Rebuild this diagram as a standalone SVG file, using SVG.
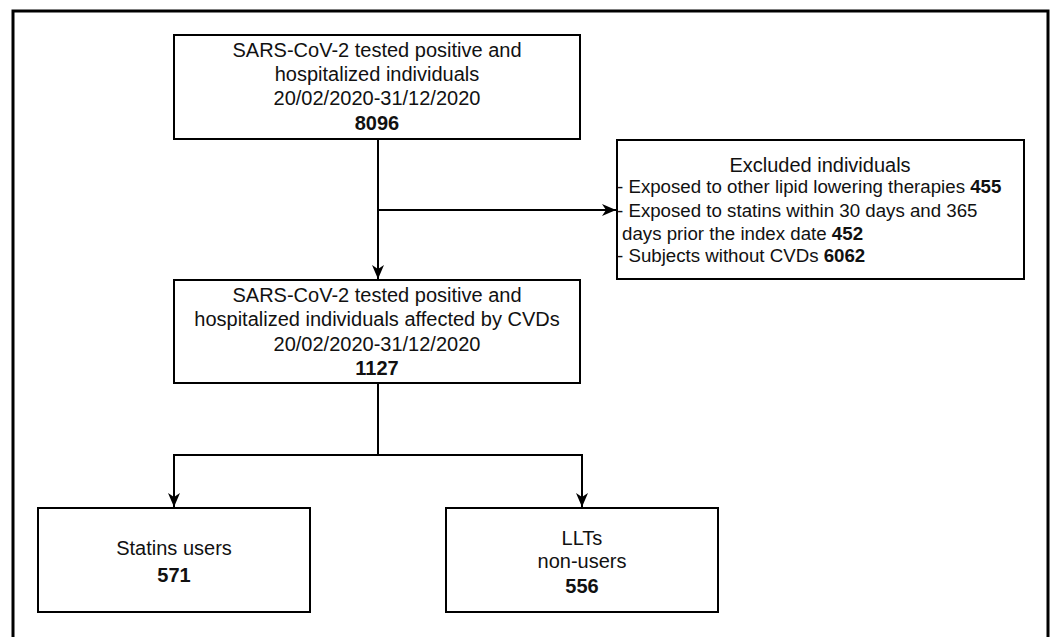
<svg xmlns="http://www.w3.org/2000/svg" width="1054" height="637" viewBox="0 0 1054 637">
<style>
.box{fill:#fff;stroke:#000;stroke-width:2}
.t{font-family:"Liberation Sans",Arial,sans-serif;font-size:20px;fill:#111;text-anchor:middle}
.l{font-family:"Liberation Sans",Arial,sans-serif;font-size:18.7px;fill:#111}
.b{font-weight:bold}
.c{fill:none;stroke:#000;stroke-width:2}
</style>
<defs>
<marker id="ah" viewBox="0 0 14 12" refX="14" refY="6" markerWidth="14" markerHeight="12" markerUnits="userSpaceOnUse" orient="auto">
<path d="M0,0 L14,6 L0,12 L4,6 Z" fill="#000"/>
</marker>
</defs>
<rect width="1054" height="637" fill="#fff"/>
<path d="M13,650 V11 H1048 V650" fill="none" stroke="#000" stroke-width="3"/>
<g id="connectors">
<path class="c" d="M378,139 V279" marker-end="url(#ah)"/>
<path class="c" d="M378,210 H616" marker-end="url(#ah)"/>
<path class="c" d="M378,383 V455"/>
<path class="c" d="M174,455 H582"/>
<path class="c" d="M174,454 V507" marker-end="url(#ah)"/>
<path class="c" d="M582,454 V507" marker-end="url(#ah)"/>
</g>
<g id="n1">
<rect class="box" x="174" y="35" width="406" height="104"/>
<text class="t" x="377" y="57">SARS-CoV-2 tested positive and</text>
<text class="t" x="377" y="81">hospitalized individuals</text>
<text class="t" x="377" y="105">20/02/2020-31/12/2020</text>
<text class="t b" x="377" y="130">8096</text>
</g>
<g id="n2">
<rect class="box" x="617" y="140" width="407" height="139"/>
<text class="t" x="820" y="172">Excluded individuals</text>
<text class="l" x="617" y="193">- Exposed to other lipid lowering therapies <tspan class="b">455</tspan></text>
<text class="l" x="617" y="217">- Exposed to statins within 30 days and 365</text>
<text class="l" x="622" y="240">days prior the index date <tspan class="b">452</tspan></text>
<text class="l" x="617" y="262">- Subjects without CVDs <tspan class="b">6062</tspan></text>
</g>
<g id="n3">
<rect class="box" x="174" y="280" width="406" height="103"/>
<text class="t" x="377" y="302">SARS-CoV-2 tested positive and</text>
<text class="t" x="377" y="326">hospitalized individuals affected by CVDs</text>
<text class="t" x="377" y="351">20/02/2020-31/12/2020</text>
<text class="t b" x="377" y="375">1127</text>
</g>
<g id="n4">
<rect class="box" x="38" y="508" width="272" height="104"/>
<text class="t" x="174" y="555">Statins users</text>
<text class="t b" x="174" y="582">571</text>
</g>
<g id="n5">
<rect class="box" x="446" y="508" width="272" height="104"/>
<text class="t" x="582" y="545">LLTs</text>
<text class="t" x="582" y="568">non-users</text>
<text class="t b" x="582" y="593">556</text>
</g>
</svg>
